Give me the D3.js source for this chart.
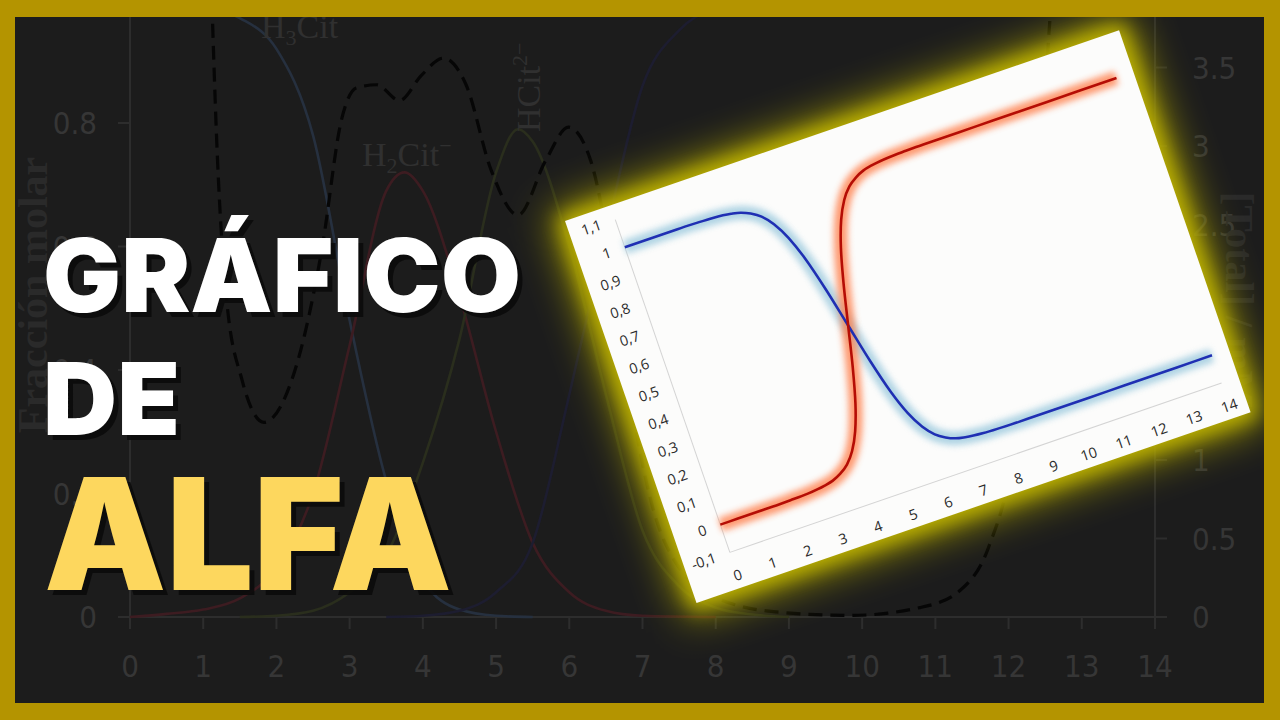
<!DOCTYPE html>
<html><head><meta charset="utf-8">
<script src="https://cdn.jsdelivr.net/npm/d3@7"></script>
<style>html,body{margin:0;padding:0;background:#1c1c1c;overflow:hidden}</style>
</head><body>
<svg id="c" width="1280" height="720"></svg>
<script>
// ---------- background (faded) chart data ----------
const bgXTicks = [0,1,2,3,4,5,6,7,8,9,10,11,12,13,14];
const bgLeftTicks = [0,0.2,0.4,0.6,0.8];
const bgLeftLabels = ["0","0.2","0.4","0.6","0.8"];
const bgRightTicks = [0,0.5,1,1.5,2,2.5,3,3.5];
const bgRightLabels = ["0","0.5","1","1.5","2","2.5","3","3.5"];

const h3citPH  = [0,0.5,1,1.5,2,2.5,3,3.5,4,4.5,5,5.5];
const h3citVal = [1,0.998,0.99,0.97,0.92,0.78,0.48,0.22,0.06,0.012,0.002,0];
const h2citPH  = [0,0.5,1,1.5,2,2.5,3,3.5,3.75,4,4.5,5,5.5,6,6.5,7,8];
const h2citVal = [0,0.005,0.012,0.03,0.08,0.2,0.44,0.69,0.72,0.69,0.52,0.3,0.12,0.04,0.01,0.002,0];
const hcitPH   = [1.5,2,2.5,3,3.5,4,4.5,5,5.3,5.5,6,6.5,7,7.5,8,8.5,9];
const hcitVal  = [0,0.002,0.01,0.04,0.1,0.25,0.45,0.72,0.79,0.77,0.6,0.36,0.14,0.05,0.015,0.004,0];
const citPH    = [3.5,4,4.5,5,5.5,6,6.5,7,7.5,8,9,10,14];
const citVal   = [0,0.002,0.01,0.04,0.12,0.36,0.62,0.86,0.95,0.985,0.999,1,1];
const dashPH   = [1.1,1.19,1.32,1.53,1.83,2.21,2.62,2.89,3.09,3.37,3.68,3.98,4.28,4.59,4.93,5.3,5.68,5.99,6.29,6.57,6.84,7.11,7.52,8.07,8.88,9.84,10.79,11.34,11.74,12.02,12.29,12.49,12.62];
const dashVal  = [4.2,2.97,2.02,1.51,1.24,1.51,2.34,3.17,3.37,3.39,3.29,3.45,3.56,3.39,2.85,2.56,2.91,3.12,2.91,2.27,1.38,0.75,0.3,0.11,0.03,0.01,0.06,0.17,0.46,0.94,2.02,3.29,4.2];

// ---------- foreground card chart data ----------
const cardXTicks = [0,1,2,3,4,5,6,7,8,9,10,11,12,13,14];
const cardYTicks = [-0.1,0,0.1,0.2,0.3,0.4,0.5,0.6,0.7,0.8,0.9,1,1.1];
const cardYLabels = ["-0,1","0","0,1","0,2","0,3","0,4","0,5","0,6","0,7","0,8","0,9","1","1,1"];
const alphaPH = [0,0.5,1,1.5,2,2.5,3,3.25,3.5,3.75,4,4.25,4.5,4.75,5,5.25,5.5,5.75,6,6.25,6.5,6.75,7,7.5,8,8.5,9,10,11,12,13,14];
const alpha1  = [0,0,0,0,0.001,0.003,0.01,0.017,0.031,0.053,0.091,0.151,0.24,0.36,0.5,0.64,0.76,0.849,0.909,0.947,0.969,0.983,0.99,0.997,0.999,1,1,1,1,1,1,1];
const alpha0  = [1,1,1,1,0.999,0.997,0.99,0.983,0.969,0.947,0.909,0.849,0.76,0.64,0.5,0.36,0.24,0.151,0.091,0.053,0.031,0.017,0.01,0.003,0.001,0,0,0,0,0,0,0];

const svg = d3.select("#c");
svg.append("rect").attr("width",1280).attr("height",720).attr("fill","#1c1c1c");

const defs = svg.append("defs");
defs.append("filter").attr("id","cardGlowWide").attr("x","-40%").attr("y","-40%").attr("width","180%").attr("height","180%")
  .append("feGaussianBlur").attr("stdDeviation",20);
defs.append("filter").attr("id","cardGlow").attr("x","-30%").attr("y","-30%").attr("width","160%").attr("height","160%")
  .append("feGaussianBlur").attr("stdDeviation",9);
defs.append("filter").attr("id","lineGlow").attr("x","-20%").attr("y","-20%").attr("width","140%").attr("height","140%")
  .append("feGaussianBlur").attr("stdDeviation",3.4);

// ---------- background chart ----------
const bg = svg.append("g");
const bx = d3.scaleLinear().domain([0,14]).range([130,1155]);
const byL = d3.scaleLinear().domain([0,1]).range([617,-0.5]);
const byR = d3.scaleLinear().domain([0,3.5]).range([617,67.5]);
const axCol = "#2d2d2d", txtCol = "#363636";

bg.append("line").attr("x1",bx(0)).attr("x2",bx(14)).attr("y1",byL(0)).attr("y2",byL(0)).attr("stroke",axCol).attr("stroke-width",2);
bg.append("line").attr("x1",bx(0)).attr("x2",bx(0)).attr("y1",byL(0)).attr("y2",0).attr("stroke",axCol).attr("stroke-width",2);
bg.append("line").attr("x1",bx(14)).attr("x2",bx(14)).attr("y1",byL(0)).attr("y2",0).attr("stroke",axCol).attr("stroke-width",2);

const fontBg = "'DejaVu Sans Condensed','DejaVu Sans',sans-serif";
bg.selectAll(".xt").data(bgXTicks).enter().append("line")
  .attr("x1",d=>bx(d)).attr("x2",d=>bx(d)).attr("y1",byL(0)).attr("y2",byL(0)+12).attr("stroke",axCol).attr("stroke-width",2);
bg.selectAll(".xl").data(bgXTicks).enter().append("text")
  .attr("x",d=>bx(d)).attr("y",677).attr("text-anchor","middle").attr("font-family",fontBg).attr("font-size",31)
  .attr("fill",txtCol).text(d=>d);
bg.selectAll(".yt").data(bgLeftTicks).enter().append("line")
  .attr("x1",bx(0)-12).attr("x2",bx(0)).attr("y1",d=>byL(d)).attr("y2",d=>byL(d)).attr("stroke",axCol).attr("stroke-width",2);
bg.selectAll(".yl").data(bgLeftTicks).enter().append("text")
  .attr("x",97).attr("y",d=>byL(d)+11).attr("text-anchor","end").attr("font-family",fontBg).attr("font-size",31)
  .attr("fill",txtCol).text((d,i)=>bgLeftLabels[i]);
bg.selectAll(".rt").data(bgRightTicks).enter().append("line")
  .attr("x1",bx(14)).attr("x2",bx(14)+12).attr("y1",d=>byR(d)).attr("y2",d=>byR(d)).attr("stroke",axCol).attr("stroke-width",2);
bg.selectAll(".rl").data(bgRightTicks).enter().append("text")
  .attr("x",1192).attr("y",d=>byR(d)+11).attr("text-anchor","start").attr("font-family",fontBg).attr("font-size",31)
  .attr("fill",txtCol).text((d,i)=>bgRightLabels[i]);

// axis titles
bg.append("text").attr("transform","translate(47,295) rotate(-90)").attr("text-anchor","middle")
  .attr("font-family","'Liberation Serif',serif").attr("font-weight","bold").attr("font-size",42).attr("fill","#2a2a2a")
  .text("Fracción molar");
bg.append("text").attr("transform","translate(1226,300) rotate(90)").attr("text-anchor","middle")
  .attr("font-family","'Liberation Serif',serif").attr("font-weight","bold").attr("font-size",40).attr("fill","#2a2a2a")
  .text("[Total] / mM");

// species curves
const lineL = d3.line().x(d=>bx(d[0])).y(d=>byL(d[1])).curve(d3.curveMonotoneX);
const lineR = d3.line().x(d=>bx(d[0])).y(d=>byR(d[1])).curve(d3.curveMonotoneX);
const zip = (a,b)=>a.map((v,i)=>[v,b[i]]);
bg.append("path").attr("d",lineL(zip(h3citPH,h3citVal))).attr("fill","none").attr("stroke","#26303f").attr("stroke-width",2.6);
bg.append("path").attr("d",lineL(zip(h2citPH,h2citVal))).attr("fill","none").attr("stroke","#3d1c21").attr("stroke-width",2.6);
bg.append("path").attr("d",lineL(zip(hcitPH,hcitVal))).attr("fill","none").attr("stroke","#2a2e1d").attr("stroke-width",2.6);
bg.append("path").attr("d",lineL(zip(citPH,citVal))).attr("fill","none").attr("stroke","#1d1d30").attr("stroke-width",2.6);
bg.append("path").attr("d",lineR(zip(dashPH,dashVal))).attr("fill","none").attr("stroke","#060606").attr("stroke-width",3.2)
  .attr("stroke-dasharray","14,8");

// species labels
const serif = "'Liberation Serif','DejaVu Serif',serif";
const l1 = bg.append("text").attr("x",261).attr("y",38).attr("font-family",serif).attr("font-size",34).attr("fill","#303030");
l1.append("tspan").text("H");
l1.append("tspan").attr("font-size",22).attr("dy",7).text("3");
l1.append("tspan").attr("dy",-7).text("Cit");
const l2 = bg.append("text").attr("x",362).attr("y",166).attr("font-family",serif).attr("font-size",34).attr("fill","#303030");
l2.append("tspan").text("H");
l2.append("tspan").attr("font-size",22).attr("dy",7).text("2");
l2.append("tspan").attr("dy",-7).text("Cit");
l2.append("tspan").attr("font-size",22).attr("dy",-13).text("−");
const l3 = bg.append("text").attr("transform","translate(540,132) rotate(-90)").attr("font-family",serif).attr("font-size",34).attr("fill","#303030");
l3.append("tspan").text("HCit");
l3.append("tspan").attr("font-size",22).attr("dy",-13).text("2−");

// ---------- title ----------
const tFont = "Inter,'Open Sans',sans-serif";
const titles = [
  {t:"GRÁFICO", x:43, y:312, fs:102, len:478, col:"#ffffff"},
  {t:"DE", x:43, y:435, fs:100, len:137, col:"#ffffff"},
  {t:"ALFA", x:44, y:590, fs:155, len:408, col:"#fdd75e"}
];
const tg = svg.append("g");
titles.forEach(o=>{
  tg.append("text").attr("x",o.x+5).attr("y",o.y+5).attr("font-family",tFont).attr("font-weight",900)
    .attr("font-size",o.fs).attr("textLength",o.len).attr("lengthAdjust","spacingAndGlyphs").attr("fill","#0b0b0b").attr("opacity",0.9).text(o.t);
  tg.append("text").attr("x",o.x).attr("y",o.y).attr("font-family",tFont).attr("font-weight",900)
    .attr("font-size",o.fs).attr("textLength",o.len).attr("lengthAdjust","spacingAndGlyphs").attr("fill",o.col).text(o.t);
});

// ---------- rotated card ----------
const cardW = 586, cardH = 404;
const card = svg.append("g").attr("transform","translate(565,221) rotate(-19)");
card.append("rect").attr("x",-12).attr("y",-12).attr("width",cardW+24).attr("height",cardH+24)
  .attr("fill","#a59c00").attr("filter","url(#cardGlowWide)");
card.append("rect").attr("x",-6).attr("y",-6).attr("width",cardW+12).attr("height",cardH+12)
  .attr("fill","#c4b800").attr("opacity",0.85).attr("filter","url(#cardGlow)");
card.append("rect").attr("width",cardW).attr("height",cardH).attr("fill","#fcfcfb");

const cx = d3.scaleLinear().domain([0,14]).range([48,568]);
const cy = d3.scaleLinear().domain([-0.1,1.1]).range([367,15]);
card.append("line").attr("x1",cx(0)).attr("x2",cx(0)).attr("y1",cy(1.1)).attr("y2",cy(-0.1)).attr("stroke","#d4d4d4").attr("stroke-width",1);
card.append("line").attr("x1",cx(0)).attr("x2",cx(14)).attr("y1",cy(-0.1)).attr("y2",cy(-0.1)).attr("stroke","#d4d4d4").attr("stroke-width",1);

const cFont = "'Open Sans','Liberation Sans',sans-serif";
card.selectAll(".cyl").data(cardYTicks).enter().append("text")
  .attr("x",33).attr("y",d=>cy(d)+5).attr("text-anchor","end").attr("font-family",cFont).attr("font-size",14.5)
  .attr("fill","#2a2a2a").text((d,i)=>cardYLabels[i]);
card.selectAll(".cxl").data(cardXTicks).enter().append("text")
  .attr("x",d=>cx(d)).attr("y",396).attr("text-anchor","middle").attr("font-family",cFont).attr("font-size",14.5)
  .attr("fill","#2a2a2a").text(d=>d);

const cLine = d3.line().x(d=>cx(d[0])).y(d=>cy(d[1])).curve(d3.curveMonotoneX);
const redD = cLine(zip(alphaPH,alpha1)), blueD = cLine(zip(alphaPH,alpha0));
card.append("path").attr("d",blueD).attr("fill","none").attr("stroke","#a3cde0").attr("stroke-width",14).attr("opacity",0.85).attr("filter","url(#lineGlow)");
card.append("path").attr("d",redD).attr("fill","none").attr("stroke","#ff7a45").attr("stroke-width",14).attr("opacity",0.75).attr("filter","url(#lineGlow)");
card.append("path").attr("d",blueD).attr("fill","none").attr("stroke","#1f2fb3").attr("stroke-width",2.6);
card.append("path").attr("d",redD).attr("fill","none").attr("stroke","#b50d05").attr("stroke-width",2.6);

// ---------- gold frame ----------
svg.append("path").attr("fill","#b49400").attr("fill-rule","evenodd")
  .attr("d","M0,0H1280V720H0Z M15,17V703H1264V17Z");
</script>
</body></html>
